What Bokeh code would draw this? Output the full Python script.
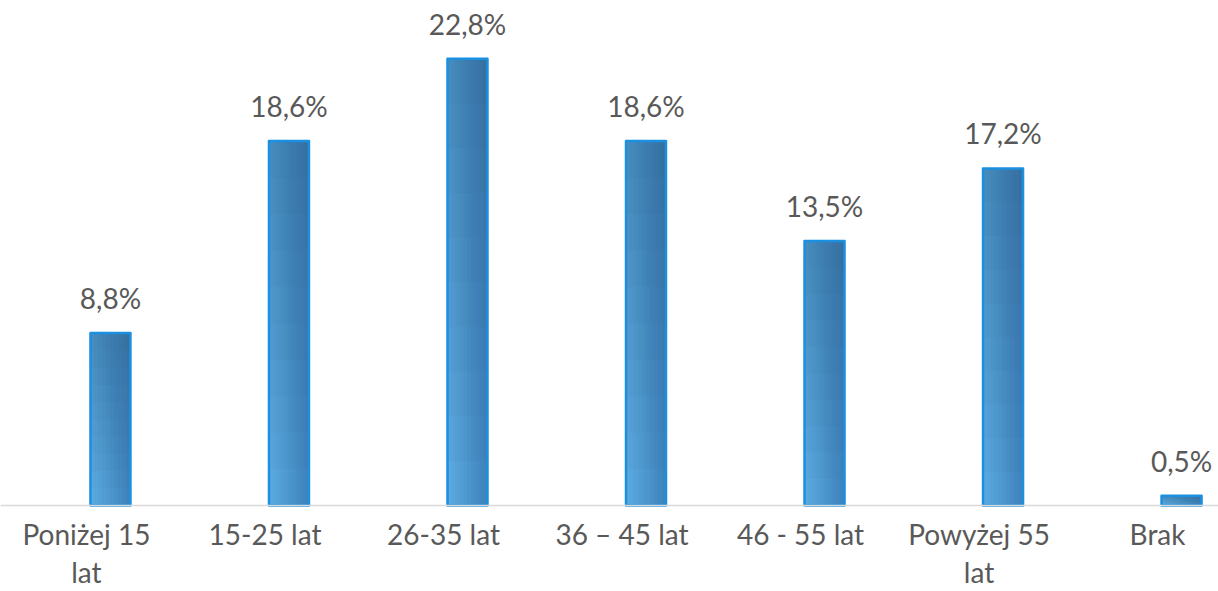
import numpy as np
from bokeh.plotting import figure
from bokeh.models import Range1d, ColumnDataSource, Span
from bokeh.core.properties import value
from bokeh.embed import file_html
from bokeh.resources import INLINE

categories = ["Poniżej 15\nlat", "15-25 lat", "26-35 lat", "36 – 45 lat",
              "46 - 55 lat", "Powyżej 55\nlat", "Brak"]
shares = [8.8, 18.6, 22.8, 18.6, 13.5, 17.2, 0.5]
value_labels = ["8,8%", "18,6%", "22,8%", "18,6%", "13,5%", "17,2%", "0,5%"]

FONT = "Lato"
xs = np.arange(len(categories), dtype=float)
vals = np.array(shares)
bar_w = 0.224

p = figure(width=1218, height=591, output_backend="svg", toolbar_location=None,
           x_range=Range1d(-0.616, 6.207), y_range=Range1d(-4.388, 25.77),
           min_border_left=0, min_border_right=0, min_border_top=0, min_border_bottom=0)
p.background_fill_color = "white"
p.border_fill_color = "white"
p.outline_line_color = None
p.xgrid.visible = False
p.ygrid.visible = False
p.xaxis.visible = False
p.yaxis.visible = False

# baseline (category axis line)
p.add_layout(Span(location=0, dimension="width", line_color="#d9d9d9", line_width=1.5))

# horizontal gradient slices (light left -> darker right)
n_sl = 10
c_left = np.array([0x5C, 0xAC, 0xE3])
c_right = np.array([0x3E, 0x82, 0xBA])
for k in range(n_sl):
    t = (k + 0.5) / n_sl
    c = (c_left * (1 - t) + c_right * t).astype(int)
    col = "#%02x%02x%02x" % tuple(c)
    offs = -bar_w / 2 + (k + 0.5) * bar_w / n_sl
    p.vbar(x=xs + offs, width=bar_w / n_sl * 1.2, bottom=0, top=vals,
           fill_color=col, line_color=None)

# vertical darkening toward top
n_v = 10
for j in range(1, n_v):
    p.vbar(x=xs, width=bar_w, bottom=vals * j / n_v, top=vals,
           fill_color="#1c3a5c", fill_alpha=0.03, line_color=None)

# bright blue outline
p.vbar(x=xs, width=bar_w, bottom=0, top=vals, fill_color=None,
       line_color="#1b8fe0", line_width=2.5, line_join="round")

src = ColumnDataSource(dict(x=xs, y=vals, t=value_labels,
                            z=np.zeros(len(xs)), c=categories))
p.text(x="x", y="y", text="t", source=src, text_align="center",
       text_baseline="bottom", y_offset=-18, text_color="#595959",
       text_font=value(FONT), text_font_size="28px")

p.text(x="x", y="z", text="c", source=src, text_align="center",
       text_baseline="top", x_offset=-24, y_offset=11, text_color="#595959",
       text_font=value(FONT), text_font_size="28px", text_line_height=1.12)

open("out.html", "w").write(file_html(p, INLINE))
